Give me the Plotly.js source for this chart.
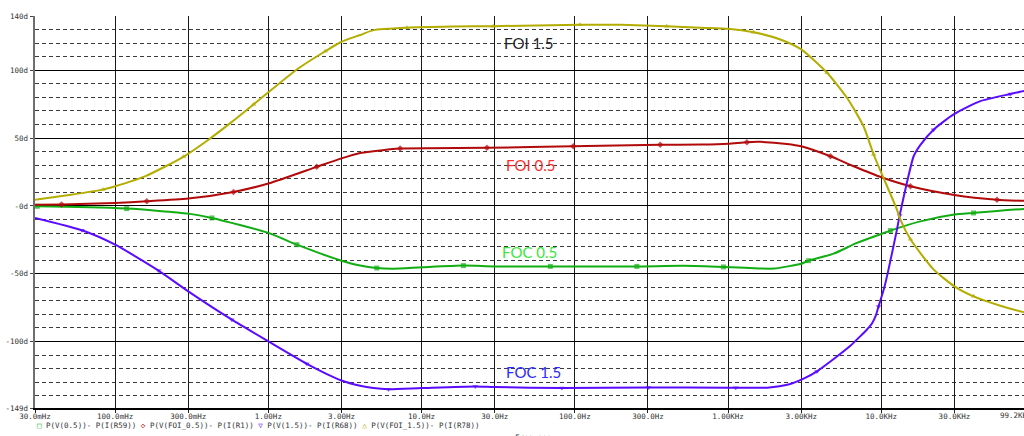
<!DOCTYPE html>
<html>
<head>
<meta charset="utf-8">
<script src="https://cdn.plot.ly/plotly-3.0.1.min.js"></script>
<style>
html,body{margin:0;padding:0;overflow:hidden;background:#fff;width:1024px;height:436px;}
#chart{width:1040px;height:436px;}
</style>
</head>
<body>
<div id="chart"></div>
<script>
// ---- tick labels ----
const xTickVals = [0.03, 0.1, 0.3, 1, 3, 10, 30, 100, 300, 1000, 3000, 10000, 30000];
const xTickText = ["30.0mHz","100.0mHz","300.0mHz","1.00Hz","3.00Hz","10.0Hz","30.0Hz","100.0Hz","300.0Hz","1.00KHz","3.00KHz","10.0KHz","30.0KHz"];
const xEndLabel = "99.2KHz";
const yTickVals = [140, 100, 50, 0, -50, -100, -149];
const yTickText = ["140d","100d","50d","-0d","-50d","-100d","-149d"];

// ---- P(V(FOI_1.5))- P(I(R78)) ----
const foi15Freq = [0.03,0.05,0.0832,0.1,0.158,0.279,0.398,0.564,0.8,1,1.535,2.35,3,3.98,4.85,8.02,15.8,29.4,108,200,398,661,1000,1469,2193,3000,4426,5970,7656,8913,10000,12650,13300,15490,21930,30000,39990,59840,85700,99200];
const foi15Deg  = [4.5,8,12,14.5,22,36.2,48,61,74.8,83.8,100.6,114,121,126,129.6,131.4,132.2,132.5,133.6,133.5,132.5,131.4,130.6,128,122.7,115.4,98.2,79.7,58.7,37.9,24.4,-2.7,-10,-24.6,-46.8,-59.3,-66.7,-73.6,-78.5,-80];
const foi15Marks = [0.0832,0.279,0.8,2.35,8.02,29.4,108,398,1469,4426,8913,15490,39990];

// ---- P(V(FOI_0.5))- P(I(R1)) ----
const foi05Freq = [0.03,0.0447,0.1,0.161,0.3,0.592,1,2.07,3,3.97,4.85,7.24,26.7,97.7,361,661,1000,1327,1622,2421,3000,4656,6607,10000,15490,30000,56900,85700,99200];
const foi05Deg  = [0.9,1,2.2,3.4,5.4,10.3,16.5,28.8,35,39,40.3,42.3,42.8,44,45,45.2,45.8,47,47.2,45.7,44,36.6,29.2,21.1,14.5,8.1,4.6,3.7,3.4];
const foi05Marks = [0.0447,0.161,0.592,2.07,7.24,26.7,97.7,361,1327,4656,15490,56900];

// ---- P(V(0.5))- P(I(R59)) ----
const v05Freq = [0.03,0.031,0.119,0.3,0.428,1,1.535,3,3.97,5.1,6.5,10,18.75,30,69.2,254,513,933,1500,2000,3000,3357,4886,6934,10000,11460,17990,30000,39990,85700,99200];
const v05Deg  = [-0.3,-0.3,-2,-5.7,-8.9,-19.9,-28.6,-40.4,-44,-45.8,-46.3,-45.3,-44,-44.6,-44.6,-44.6,-44.2,-45,-46,-46.2,-42.6,-40.4,-35.2,-27.3,-20.7,-18.2,-11.4,-6.4,-5.2,-2.2,-2];
const v05Marks = [0.031,0.119,0.428,1.535,5.1,18.75,69.2,254,933,3357,11460,39990];

// ---- P(V(1.5))- P(I(R68)) ----
const v15Freq = [0.03,0.0607,0.1,0.192,0.3,0.578,1,1.782,3,3.97,4.85,6.08,10,22.4,30,82.4,302,1000,1122,1800,2512,3162,3802,5012,6310,7080,8035,8710,9230,9600,10470,11140,12650,13180,14690,16260,18000,21930,29650,44260,69500,85700,99200];
const v15Deg  = [-8.9,-18,-28.6,-47.7,-63,-83.9,-99.9,-116.4,-128.7,-132.6,-134.3,-135.1,-134.3,-133.1,-133.6,-134.3,-133.9,-134,-134,-134,-131.5,-127,-122,-112,-103,-97.5,-91.3,-86.5,-80.5,-74.1,-60,-47,-17.5,-7,17,36.6,45,56.2,67.4,77.2,82.5,84.8,85.5];
const v15Marks = [0.0607,0.192,0.578,1.782,6.08,22.4,82.4,302,1122,3802,9600,13180,21930,69500];

function sizes(freq, marks, s){ return freq.map(f => marks.includes(f) ? s : 0); }

function trace(freq, deg, marks, color, symbol, name){
  return {
    x: freq, y: deg, type: 'scatter', mode: 'lines+markers', name: name,
    line: {color: color, width: 2, shape: 'spline', smoothing: 0.6},
    marker: {color: color, symbol: symbol, size: sizes(freq, marks, 5), line: {width: 0}},
    hoverinfo: 'skip'
  };
}

const data = [
  trace(v05Freq, v05Deg, v05Marks, '#12ad12', 'square', 'P(V(0.5))- P(I(R59))'),
  trace(foi05Freq, foi05Deg, foi05Marks, '#b20a0a', 'diamond', 'P(V(FOI_0.5))- P(I(R1))'),
  trace(v15Freq, v15Deg, v15Marks, '#5a0cff', 'triangle-down', 'P(V(1.5))- P(I(R68))'),
  trace(foi15Freq, foi15Deg, foi15Marks, '#b3ad00', 'triangle-up', 'P(V(FOI_1.5))- P(I(R78))')
];

const mono = 'DejaVu Sans Mono, monospace';
const labelFont = {family: 'Lato, sans-serif', size: 15};

const legendText =
  '<span style="color:#12ad12">□</span> P(V(0.5))- P(I(R59)) ' +
  '<span style="color:#b20a0a">◇</span> P(V(FOI_0.5))- P(I(R1)) ' +
  '<span style="color:#5a0cff">▽</span> P(V(1.5))- P(I(R68)) ' +
  '<span style="color:#b3ad00">△</span> P(V(FOI_1.5))- P(I(R78))';

function lbl(x, y, text, color){
  return {xref: 'paper', yref: 'paper', x: x, y: y, xanchor: 'center', yanchor: 'middle',
          text: text, showarrow: false, font: Object.assign({color: color}, labelFont)};
}

const layout = {
  width: 1040, height: 436,
  margin: {l: 35, r: 6, t: 16, b: 28},
  paper_bgcolor: '#fff', plot_bgcolor: '#fff',
  showlegend: false,
  xaxis: {
    type: 'log',
    range: [Math.log10(0.03), Math.log10(99200)],
    tickmode: 'array', tickvals: xTickVals, ticktext: xTickText,
    tickfont: {family: mono, size: 7.5, color: '#333'},
    ticks: 'outside', ticklen: 3, tickcolor: '#222', tickwidth: 1,
    ticklabelstandoff: -3,
    showgrid: true, gridcolor: '#1a1a1a', gridwidth: 1,
    showline: true, linecolor: '#000', linewidth: 1.5,
    zeroline: false, fixedrange: true
  },
  yaxis: {
    range: [-149, 140],
    tickmode: 'array', tickvals: yTickVals, ticktext: yTickText,
    tickfont: {family: mono, size: 7.5, color: '#333'},
    ticks: 'outside', ticklen: 3, tickcolor: '#444', tickwidth: 1,
    showgrid: true, gridcolor: '#000', gridwidth: 1,
    minor: {dtick: 10, tick0: 0, showgrid: true, gridcolor: '#3a3a3a', gridwidth: 1, griddash: '4px,3px', ticks: ''},
    showline: true, linecolor: '#6e6e6e', linewidth: 2.5,
    zeroline: false, fixedrange: true
  },
  annotations: [
    lbl(0.4943, 0.9304, 'FOI 1.5', '#222'),
    lbl(0.4963, 0.6199, 'FOI 0.5', '#ff2a2a'),
    lbl(0.4947, 0.3972, 'FOC 0.5', '#3be63b'),
    lbl(0.4993, 0.0911, 'FOC 1.5', '#2a2aff'),
    {xref: 'paper', yref: 'paper', x: 0, y: -0.0434, xanchor: 'left', yanchor: 'middle', text: legendText, showarrow: false, font: {family: mono, size: 7.5, color: '#333'}},
    {xref: 'paper', yref: 'paper', x: 1, y: -0.0204, xanchor: 'right', yanchor: 'middle', text: xEndLabel, showarrow: false, font: {family: mono, size: 7.5, color: '#333'}},
    {xref: 'paper', yref: 'paper', x: 0.4785, y: -0.0587, xanchor: 'left', yanchor: 'top', text: 'Frequency', showarrow: false, font: {family: mono, size: 7.5, color: '#333'}}
  ]
};

Plotly.newPlot('chart', data, layout, {displayModeBar: false, staticPlot: true});
</script>
</body>
</html>
